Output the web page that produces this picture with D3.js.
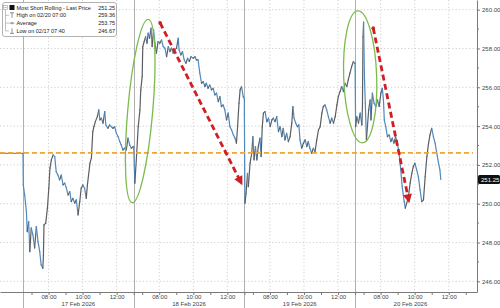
<!DOCTYPE html>
<html><head><meta charset="utf-8">
<script src="https://cdn.jsdelivr.net/npm/d3@7"></script>
<style>
body{margin:0;background:#fff}
svg{display:block}
text{font-family:"Liberation Sans",Arial,sans-serif}
</style>
</head><body>
<svg id="chart" width="500" height="308"></svg>
<script>
// ---------------- data ----------------
const days = ["17 Feb 2026", "18 Feb 2026", "19 Feb 2026", "20 Feb 2026"];
const sessionOpen = "06:30";
const sessionHours = 6.5;
const hourTicks = ["07:00", "08:00", "09:00", "10:00", "11:00", "12:00", "13:00"];
const labelTicks = ["08:00", "10:00", "12:00"];
const yTicks = [246, 248, 250, 252, 254, 256, 258, 260];
const yMinorTicks = [247, 249, 251, 253, 255, 257, 259];

// minutes after the 06:30 open, and prices
const day1Minutes = [0,1,6,12,15,20,24,29,35,41,47,53,59,64,70,72,74,80,86,91,95,100,106,112,117,123,129,135,141,147,153,159,165,170,176,182,188,194,200,205,211,217,223,227,231,236,241,246,250,255,262,267,271,276,282,288,292,299,305,311,317,323,329,335,341,346,352,358,364,370,376,382,389];
const day1Values = [252.60,250.97,250.45,249.59,248.56,249.08,247.53,248.75,248.39,247.72,248.82,248.05,247.53,246.85,246.67,247.36,248.91,248.99,249.77,250.80,251.83,252.26,252.52,252.43,251.65,251.48,251.23,251.48,250.97,251.06,250.80,250.45,250.62,250.11,250.28,250.03,250.20,249.42,250.11,250.80,250.97,250.80,250.28,250.97,251.48,252.09,252.35,253.72,253.97,254.23,254.49,254.84,254.32,254.41,254.15,254.75,254.06,253.89,254.06,253.97,253.89,253.97,253.63,253.46,253.20,253.03,252.77,252.86,252.77,253.38,253.03,252.86,252.95];

const day2Minutes = [0,4,10,16,22,25,30,32,37,42,47,51,56,61,65,70,75,80,86,92,98,104,110,116,122,128,133,139,145,151,157,160,166,172,178,184,190,196,202,210,216,221,227,233,239,245,251,256,262,268,274,280,286,292,298,304,309,315,321,327,333,339,345,351,357,362,366,371,375,380,386,390];
const day2Values = [252.95,251.06,252.43,253.97,254.84,255.87,256.55,258.10,258.36,258.61,258.27,258.79,258.53,259.05,258.10,258.96,258.27,257.76,258.36,258.27,258.44,258.10,258.02,257.58,258.10,257.84,258.02,257.76,257.93,258.02,258.53,257.93,257.67,257.84,257.41,257.24,257.50,257.33,257.58,257.50,257.58,257.41,257.41,256.73,256.21,256.29,256.04,256.21,255.95,256.12,255.87,255.95,255.61,255.70,255.26,255.52,255.01,255.09,254.84,254.32,254.67,253.97,253.80,253.55,253.38,253.12,253.97,255.18,255.87,256.04,255.52,255.40];

const day3Minutes = [0,2,6,11,14,20,26,30,34,39,44,49,55,59,63,67,73,79,85,91,97,102,108,114,120,126,132,137,143,149,155,161,167,171,175,181,187,192,196,202,208,214,220,225,231,237,243,249,255,261,267,273,278,284,290,296,302,308,314,320,326,331,337,343,349,355,361,366,372,378,384,389];
const day3Values = [254.60,250.03,250.54,251.57,250.88,252.09,252.60,253.46,252.26,252.94,252.26,252.94,253.38,252.43,253.97,254.67,254.75,254.23,254.41,253.97,254.32,254.41,254.23,254.49,253.72,253.97,253.46,253.89,253.29,253.63,253.20,253.46,254.15,255.01,254.41,254.15,253.97,254.06,253.29,252.86,253.12,253.29,252.94,253.20,252.86,252.60,252.86,252.69,253.29,253.80,253.97,254.67,255.01,255.09,254.84,254.49,254.15,254.41,254.15,254.49,255.09,255.52,255.78,256.04,255.78,256.21,256.04,256.38,256.73,257.07,257.33,257.24];

const day4Minutes = [0,2,6,12,18,24,26,28,30,33,36,40,48,53,56,61,67,73,79,85,91,96,100,103,108,114,120,126,131,137,143,149,155,161,166,173,177,182,188,194,200,205,211,217,223,229,235,241,247,253,259,264,270,276,282,288,294,299,302];
const day4Values = [257.24,253.97,254.49,254.15,254.67,254.06,255.01,258.61,259.36,256.55,255.18,253.29,254.84,255.35,254.32,255.70,255.18,255.01,255.35,255.01,255.70,255.95,255.35,254.32,253.97,253.46,253.55,253.20,253.38,253.12,253.46,253.12,252.60,251.74,250.88,250.11,249.77,250.03,250.37,251.06,251.57,251.91,252.09,251.74,251.40,250.71,250.11,250.20,251.40,252.43,253.12,253.55,253.89,253.46,253.12,252.60,252.09,251.74,251.25];

const preOpenValue = 252.60;
const referenceLevel = 252.62;
const lastPrice = 251.25;

const legendLabels = ["Most Short Rolling - Last Price", "High on 02/20 07:00", "Average", "Low on 02/17 07:40"];
const legendValues = ["251.25", "259.36", "253.75", "246.67"];

// annotations: [day index, minutes after open, price]
const ellipseCenters = [[1, 23, 254.78], [3, 18, 256.54]];
const arrowStarts = [[1, 93, 259.32], [3, 64, 259.05]];
const arrowEnds = [[1, 383, 250.95], [3, 191, 250.03]];

// ---------------- chart ----------------
const svg = d3.select("#chart");
const W = 500, H = 308;
const plotRight = 477, plotBottom = 292;

const x = d3.scaleLinear().domain([-1.35, 26.66]).range([0, plotRight]);
const y = d3.scaleLinear().domain([245.45, 260.5]).range([plotBottom, 0]);

const hm = s => { const [h, m] = s.split(":").map(Number); return h + m / 60; };
const openH = hm(sessionOpen);
const tOf = (d, minutes) => d * sessionHours + minutes / 60;

// gridlines horizontal
svg.append("g").selectAll("line").data(yTicks).join("line")
  .attr("x1", 0).attr("x2", plotRight)
  .attr("y1", d => y(d)).attr("y2", d => y(d))
  .attr("stroke", "#c4c4c4").attr("stroke-width", 0.8).attr("stroke-dasharray", "1.2,2.2");

// vertical grid at labeled hours
const gridT = [];
days.forEach((d, i) => labelTicks.forEach(h => gridT.push(i * sessionHours + hm(h) - openH)));
svg.append("g").selectAll("line").data(gridT).join("line")
  .attr("x1", d => x(d)).attr("x2", d => x(d))
  .attr("y1", 0).attr("y2", plotBottom)
  .attr("stroke", "#c4c4c4").attr("stroke-width", 0.8).attr("stroke-dasharray", "1.2,2.2");

// day separators
svg.append("g").selectAll("line").data(days.map((d, i) => i * sessionHours)).join("line")
  .attr("x1", d => Math.round(x(d)) + 0.5).attr("x2", d => Math.round(x(d)) + 0.5)
  .attr("y1", 0).attr("y2", H)
  .attr("stroke", "#b0b0b0").attr("stroke-width", 1);

// series
const minutesArr = [day1Minutes, day2Minutes, day3Minutes, day4Minutes];
const valuesArr = [day1Values, day2Values, day3Values, day4Values];
const pts = [];
minutesArr.forEach((ms, d) => ms.forEach((m, i) => pts.push({ t: tOf(d, m), v: valuesArr[d][i] })));

const upColor = "#5a5e62", downColor = "#5089bb";
const gLine = svg.append("g").attr("fill", "none").attr("stroke-width", 1.2).attr("stroke-linecap", "round");
gLine.append("line")
  .attr("x1", x(x.domain()[0])).attr("x2", x(0))
  .attr("y1", y(preOpenValue)).attr("y2", y(preOpenValue))
  .attr("stroke", "#8a8a8a");
const segs = d3.pairs(pts);
gLine.selectAll("path.seg").data(segs).join("path").attr("class", "seg")
  .attr("d", ([a, b]) => d3.line().x(p => x(p.t)).y(p => y(p.v))([a, b]))
  .attr("stroke", ([a, b]) => b.v >= a.v ? upColor : downColor);

// reference dashed orange line
svg.append("line")
  .attr("x1", 0).attr("x2", plotRight - 4)
  .attr("y1", y(referenceLevel)).attr("y2", y(referenceLevel))
  .attr("stroke", "#f0a534").attr("stroke-width", 1.8).attr("stroke-dasharray", "5,3");

// green ellipses
const rads = [[12.5, 92, 5], [16.5, 66, -2]];
ellipseCenters.forEach((c, i) => {
  const cx = x(tOf(c[0], c[1])), cy = y(c[2]);
  svg.append("ellipse")
    .attr("cx", 0).attr("cy", 0).attr("rx", rads[i][0]).attr("ry", rads[i][1])
    .attr("transform", `translate(${cx},${cy}) rotate(${rads[i][2]})`)
    .attr("fill", "none").attr("stroke", "#7cbc4c").attr("stroke-width", 1.3);
});

// red dashed arrows
const red = "#cf1f25";
arrowStarts.forEach((s, i) => {
  const e = arrowEnds[i];
  const x1 = x(tOf(s[0], s[1])), y1 = y(s[2]);
  const x2 = x(tOf(e[0], e[1])), y2 = y(e[2]);
  const dx = x2 - x1, dy = y2 - y1, L = Math.hypot(dx, dy);
  const ux = dx / L, uy = dy / L;
  const hl = 9, hw = 4.5;
  const bx = x2 - ux * hl, by = y2 - uy * hl;
  svg.append("line").attr("x1", x1).attr("y1", y1).attr("x2", bx + ux * 1).attr("y2", by + uy * 1)
    .attr("stroke", red).attr("stroke-width", 2.8).attr("stroke-dasharray", "6,3.5");
  svg.append("circle").attr("cx", x1).attr("cy", y1).attr("r", 1.8).attr("fill", red);
  svg.append("path")
    .attr("d", `M${x2},${y2}L${bx - uy * hw},${by + ux * hw}L${bx + uy * hw},${by - ux * hw}Z`)
    .attr("fill", red);
});

// x axis
const tickT = [];
const labelMap = new Map();
days.forEach((d, i) => hourTicks.forEach(h => {
  const t = i * sessionHours + hm(h) - openH;
  tickT.push(t);
  if (labelTicks.includes(h)) labelMap.set(t.toFixed(3), h);
}));
const xAxis = svg.append("g").attr("transform", `translate(0,${plotBottom})`)
  .call(d3.axisBottom(x).tickValues(tickT).tickSize(3).tickSizeOuter(0)
    .tickFormat(t => labelMap.get(t.toFixed(3)) || ""));
xAxis.select(".domain").attr("stroke", "#7a7a7a");
xAxis.selectAll(".tick line").attr("stroke", "#7a7a7a");
xAxis.selectAll(".tick text").attr("font-size", 6).attr("fill", "#444").attr("dy", 0).attr("y", 7);
xAxis.selectAll(".tick text").attr("font-family", '"Liberation Sans",Arial,sans-serif');

svg.append("g").selectAll("text").data(days).join("text")
  .attr("x", (d, i) => x(i * sessionHours + sessionHours / 2))
  .attr("y", 306).attr("text-anchor", "middle")
  .attr("font-size", 6).attr("fill", "#444").text(d => d);

// y axis
const yAxis = svg.append("g").attr("transform", `translate(${plotRight},0)`)
  .call(d3.axisRight(y).tickValues(yTicks).tickSize(3).tickSizeOuter(0).tickFormat(d3.format(".2f")));
yAxis.select(".domain").attr("stroke", "#7a7a7a");
yAxis.selectAll(".tick line").attr("stroke", "#7a7a7a");
yAxis.selectAll(".tick text").attr("font-size", 6).attr("fill", "#444").attr("x", 5)
  .attr("font-family", '"Liberation Sans",Arial,sans-serif');
svg.append("g").selectAll("line").data(yMinorTicks).join("line")
  .attr("x1", plotRight).attr("x2", plotRight + 2)
  .attr("y1", d => y(d)).attr("y2", d => y(d)).attr("stroke", "#7a7a7a");

// last price tag
const ly = y(lastPrice);
svg.append("rect").attr("x", plotRight + 1).attr("y", ly - 4.5).attr("width", W - plotRight - 1).attr("height", 9)
  .attr("rx", 1.5).attr("fill", "#111");
svg.append("text").attr("x", plotRight + 4).attr("y", ly + 2.1).attr("font-size", 6)
  .attr("fill", "#fff").text(d3.format(".2f")(lastPrice));

// legend
const lg = svg.append("g");
lg.append("rect").attr("x", 2.5).attr("y", 2.5).attr("width", 114).attr("height", 34).attr("rx", 2.5)
  .attr("fill", "#fff").attr("fill-opacity", 0.92).attr("stroke", "#a0a0a0").attr("stroke-width", 0.8);
const rowY = [7.5, 15.3, 23.1, 30.9];
lg.append("rect").attr("x", 3.5).attr("y", 5.5).attr("width", 4).attr("height", 4)
  .attr("fill", "#fff").attr("stroke", "#999").attr("stroke-width", 0.6);
lg.append("line").attr("x1", 4.3).attr("x2", 6.7).attr("y1", 7.5).attr("y2", 7.5).attr("stroke", "#888").attr("stroke-width", 0.6);
lg.append("line").attr("x1", 5.5).attr("x2", 5.5).attr("y1", 9.5).attr("y2", rowY[3]).attr("stroke", "#999").attr("stroke-width", 0.6);
rowY.slice(1).forEach(yy => lg.append("line").attr("x1", 5.5).attr("x2", 9).attr("y1", yy).attr("y2", yy)
  .attr("stroke", "#999").attr("stroke-width", 0.6));
lg.append("rect").attr("x", 9.5).attr("y", 5).attr("width", 5).attr("height", 5).attr("fill", "#111");
// high marker
lg.append("path").attr("d", `M10,${rowY[1] - 2.5}H14M12,${rowY[1] - 2.5}V${rowY[1] + 2.5}`).attr("stroke", "#666").attr("stroke-width", 0.7).attr("fill", "none");
// average marker
lg.append("path").attr("d", `M9.5,${rowY[2]}H14.5M12,${rowY[2] - 1.2}V${rowY[2] + 1.2}`).attr("stroke", "#666").attr("stroke-width", 0.7).attr("fill", "none");
// low marker
lg.append("path").attr("d", `M12,${rowY[3] - 2.5}V${rowY[3] + 2.5}M10,${rowY[3] + 2.5}H14`).attr("stroke", "#666").attr("stroke-width", 0.7).attr("fill", "none");
lg.selectAll("text.lab").data(legendLabels).join("text").attr("class", "lab")
  .attr("x", 16.5).attr("y", (d, i) => rowY[i] + 2.1).attr("font-size", 5.5).attr("fill", "#222").text(d => d);
lg.selectAll("text.val").data(legendValues).join("text").attr("class", "val")
  .attr("x", 115).attr("y", (d, i) => rowY[i] + 2.1).attr("text-anchor", "end").attr("font-size", 5.5).attr("fill", "#222").text(d => d);
</script>
</body></html>
